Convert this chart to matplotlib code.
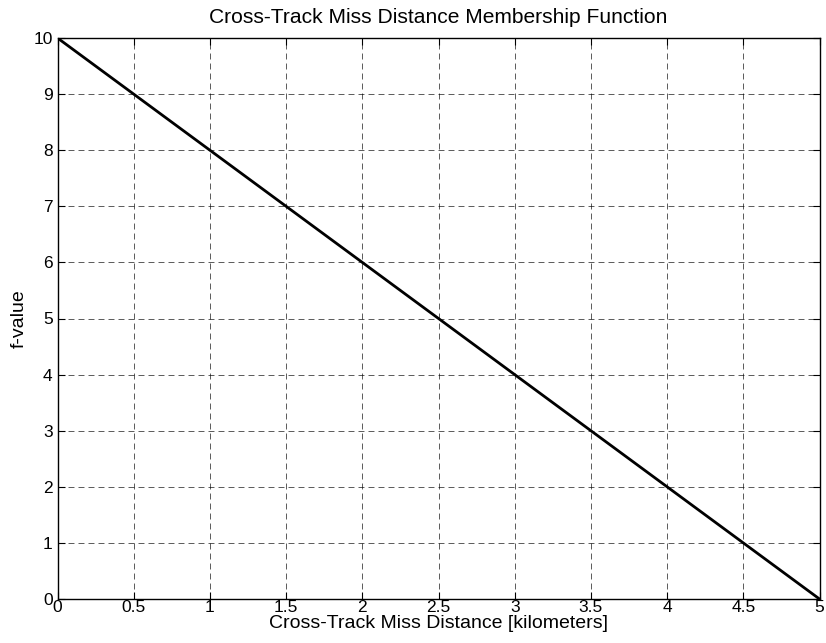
import numpy as np
import matplotlib
matplotlib.use("Agg")
import matplotlib.pyplot as plt

plt.rcParams['font.family'] = ['Liberation Sans', 'DejaVu Sans']
plt.rcParams['lines.scale_dashes'] = False

# membership function samples
distance = [0.0, 0.5, 1.0, 1.5, 2.0, 2.5, 3.0, 3.5, 4.0, 4.5, 5.0]
fvalue = [10, 9, 8, 7, 6, 5, 4, 3, 2, 1, 0]
xticks = [0, 0.5, 1, 1.5, 2, 2.5, 3, 3.5, 4, 4.5, 5]
xticklabels = ['0', '0.5', '1', '1.5', '2', '2.5', '3', '3.5', '4', '4.5', '5']
yticks = list(range(0, 11))

fig = plt.figure(figsize=(8.26, 6.43), dpi=100)
ax = fig.add_axes([57.5/826, 1-599/643, (819.5-57.5)/826, (599-38)/643])

ax.plot(distance, fvalue, color='k', lw=2.0, solid_capstyle='round')
ax.set_xlim(0, 5)
ax.set_ylim(0, 10)
ax.set_xticks(xticks)
ax.set_xticklabels(xticklabels)
ax.set_yticks(yticks)
ax.grid(True, color='k', lw=0.6, linestyle=(0, (4.3, 2.9)), alpha=0.75)
ax.tick_params(direction='in', length=5, width=0.8, top=True, right=True,
               labelsize=12.5)
ax.tick_params(axis='x', pad=1)
ax.tick_params(axis='y', pad=3.5)
for s in ax.spines.values():
    s.set_linewidth(1.0)

ax.set_title('Cross-Track Miss Distance Membership Function', fontsize=15.1, pad=11)
ax.set_xlabel('Cross-Track Miss Distance [kilometers]', fontsize=14, labelpad=0)
ax.set_ylabel('f-value', fontsize=14, labelpad=4)

fig.savefig('out.png', dpi=100)
